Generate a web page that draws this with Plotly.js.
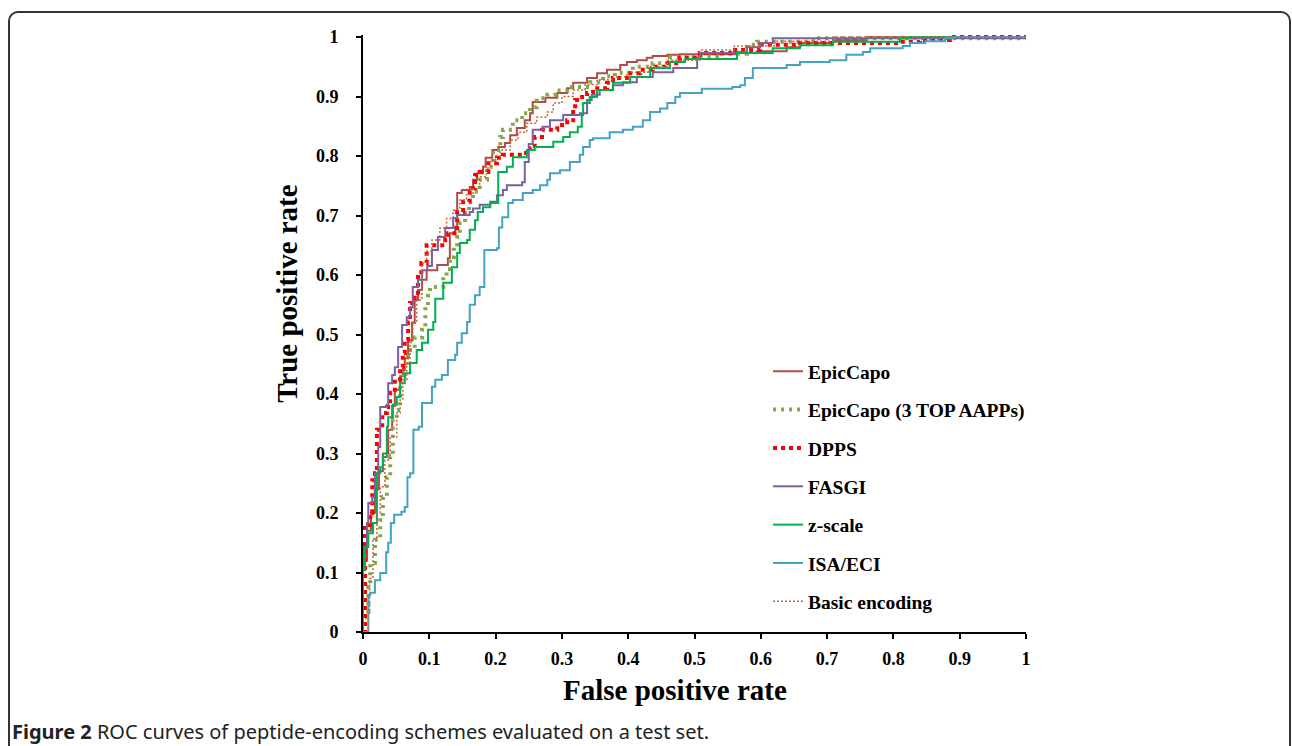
<!DOCTYPE html>
<html>
<head>
<meta charset="utf-8">
<script src="https://cdn.plot.ly/plotly-3.0.1.min.js"></script>
<style>
  html, body { margin: 0; padding: 0; background: #fff; overflow: hidden; }
  #chart { width: 1292px; height: 746px; }
  #frame { position: absolute; left: 8px; top: 11px; width: 1279px; height: 780px;
           border: 2px solid #333; border-radius: 10px; pointer-events: none; }
</style>
</head>
<body>
<div id="chart"></div>
<div id="frame"></div>
<script>
// ---- data ----
const seriesNames = ["EpicCapo", "EpicCapo (3 TOP AAPPs)", "DPPS", "FASGI", "z-scale", "ISA/ECI", "Basic encoding"];

const epicX = [0, 0, 0.006, 0.012, 0.018, 0.024, 0.03, 0.038, 0.044, 0.048, 0.056, 0.06, 0.063, 0.068, 0.074, 0.078, 0.083, 0.089, 0.096, 0.112, 0.128, 0.131, 0.139, 0.142, 0.149, 0.161, 0.166, 0.172, 0.181, 0.185, 0.195, 0.204, 0.214, 0.222, 0.232, 0.244, 0.252, 0.256, 0.275, 0.293, 0.308, 0.317, 0.338, 0.353, 0.368, 0.388, 0.398, 0.413, 0.428, 0.437, 0.459, 0.478, 0.564, 0.594, 0.639, 0.659, 0.709, 0.76, 1];
const epicY = [0, 0.12, 0.17, 0.2, 0.24, 0.27, 0.3, 0.34, 0.38, 0.407, 0.43, 0.44, 0.46, 0.49, 0.52, 0.558, 0.575, 0.592, 0.608, 0.617, 0.628, 0.67, 0.681, 0.738, 0.743, 0.748, 0.76, 0.771, 0.782, 0.797, 0.81, 0.815, 0.822, 0.835, 0.847, 0.86, 0.872, 0.891, 0.898, 0.906, 0.914, 0.923, 0.931, 0.939, 0.945, 0.953, 0.958, 0.961, 0.965, 0.968, 0.97, 0.971, 0.973, 0.976, 0.983, 0.99, 0.995, 1.0, 1.0];

const top3X = [0, 0.003, 0.008, 0.011, 0.018, 0.026, 0.03, 0.036, 0.041, 0.045, 0.051, 0.056, 0.062, 0.068, 0.078, 0.089, 0.094, 0.098, 0.101, 0.121, 0.126, 0.131, 0.137, 0.142, 0.146, 0.154, 0.16, 0.166, 0.176, 0.187, 0.196, 0.207, 0.211, 0.226, 0.24, 0.252, 0.262, 0.278, 0.29, 0.308, 0.342, 0.362, 0.38, 0.407, 0.437, 0.463, 0.488, 0.534, 0.579, 0.594, 0.679, 1];
const top3Y = [0, 0.025, 0.076, 0.116, 0.155, 0.188, 0.227, 0.26, 0.294, 0.356, 0.373, 0.424, 0.445, 0.474, 0.495, 0.508, 0.546, 0.565, 0.58, 0.597, 0.61, 0.63, 0.647, 0.664, 0.687, 0.709, 0.725, 0.74, 0.76, 0.782, 0.81, 0.832, 0.844, 0.86, 0.872, 0.882, 0.897, 0.903, 0.91, 0.916, 0.924, 0.934, 0.94, 0.95, 0.956, 0.965, 0.967, 0.972, 0.987, 0.992, 0.998, 1];

const dppsX = [0, 0.003, 0.011, 0.014, 0.018, 0.021, 0.029, 0.036, 0.041, 0.048, 0.056, 0.06, 0.063, 0.068, 0.071, 0.078, 0.083, 0.088, 0.096, 0.124, 0.128, 0.142, 0.151, 0.161, 0.169, 0.176, 0.189, 0.202, 0.211, 0.241, 0.252, 0.259, 0.27, 0.293, 0.308, 0.317, 0.32, 0.327, 0.338, 0.347, 0.368, 0.377, 0.398, 0.418, 0.437, 0.459, 0.478, 0.508, 0.558, 0.599, 0.659, 0.81, 0.84, 0.885, 1];
const dppsY = [0, 0.18, 0.2, 0.255, 0.267, 0.34, 0.368, 0.378, 0.402, 0.424, 0.445, 0.469, 0.491, 0.52, 0.553, 0.57, 0.6, 0.62, 0.65, 0.659, 0.67, 0.706, 0.723, 0.746, 0.768, 0.773, 0.788, 0.797, 0.802, 0.805, 0.813, 0.832, 0.844, 0.852, 0.86, 0.874, 0.894, 0.899, 0.906, 0.914, 0.923, 0.931, 0.939, 0.945, 0.95, 0.956, 0.965, 0.973, 0.978, 0.987, 0.99, 0.992, 0.995, 1.0, 1.0];

const fasgiX = [0, 0, 0.006, 0.008, 0.014, 0.018, 0.023, 0.026, 0.036, 0.038, 0.044, 0.048, 0.053, 0.059, 0.066, 0.071, 0.075, 0.083, 0.089, 0.097, 0.104, 0.113, 0.124, 0.136, 0.142, 0.161, 0.166, 0.176, 0.192, 0.202, 0.211, 0.217, 0.24, 0.244, 0.25, 0.256, 0.271, 0.282, 0.302, 0.327, 0.338, 0.345, 0.357, 0.377, 0.392, 0.413, 0.437, 0.468, 0.504, 0.508, 0.564, 0.579, 0.599, 0.618, 1];
const fasgiY = [0, 0.143, 0.183, 0.217, 0.227, 0.267, 0.311, 0.378, 0.382, 0.418, 0.432, 0.445, 0.479, 0.516, 0.529, 0.546, 0.58, 0.592, 0.608, 0.615, 0.642, 0.664, 0.679, 0.696, 0.701, 0.706, 0.712, 0.718, 0.723, 0.734, 0.743, 0.751, 0.756, 0.79, 0.82, 0.844, 0.849, 0.86, 0.869, 0.872, 0.894, 0.903, 0.911, 0.919, 0.924, 0.933, 0.941, 0.948, 0.965, 0.973, 0.975, 0.983, 0.99, 0.998, 1];

const zscaleX = [0, 0, 0.003, 0.008, 0.015, 0.021, 0.026, 0.03, 0.036, 0.038, 0.045, 0.051, 0.056, 0.063, 0.071, 0.081, 0.089, 0.098, 0.106, 0.109, 0.121, 0.134, 0.142, 0.146, 0.157, 0.161, 0.169, 0.173, 0.181, 0.192, 0.204, 0.217, 0.226, 0.247, 0.259, 0.287, 0.302, 0.312, 0.324, 0.33, 0.332, 0.342, 0.353, 0.377, 0.403, 0.433, 0.463, 0.486, 0.564, 0.618, 0.659, 0.709, 0.81, 0.825, 1];
const zscaleY = [0, 0.104, 0.143, 0.166, 0.183, 0.267, 0.277, 0.294, 0.345, 0.361, 0.382, 0.395, 0.418, 0.435, 0.452, 0.474, 0.486, 0.508, 0.521, 0.56, 0.587, 0.613, 0.637, 0.654, 0.659, 0.676, 0.692, 0.706, 0.714, 0.721, 0.773, 0.782, 0.798, 0.81, 0.815, 0.824, 0.832, 0.84, 0.849, 0.869, 0.889, 0.899, 0.911, 0.923, 0.933, 0.948, 0.958, 0.963, 0.973, 0.981, 0.986, 0.992, 0.998, 1, 1];

const isaX = [0, 0.008, 0.011, 0.018, 0.026, 0.035, 0.038, 0.042, 0.047, 0.058, 0.063, 0.067, 0.071, 0.076, 0.084, 0.089, 0.104, 0.109, 0.119, 0.128, 0.139, 0.142, 0.149, 0.157, 0.161, 0.169, 0.176, 0.183, 0.202, 0.205, 0.21, 0.219, 0.226, 0.241, 0.256, 0.267, 0.278, 0.282, 0.297, 0.312, 0.327, 0.332, 0.342, 0.347, 0.372, 0.392, 0.407, 0.422, 0.433, 0.448, 0.459, 0.471, 0.478, 0.511, 0.557, 0.569, 0.576, 0.588, 0.639, 0.659, 0.704, 0.729, 0.754, 0.765, 0.814, 0.825, 0.848, 0.878, 0.89, 1];
const isaY = [0, 0.062, 0.066, 0.087, 0.099, 0.134, 0.15, 0.183, 0.197, 0.202, 0.21, 0.26, 0.267, 0.34, 0.345, 0.385, 0.412, 0.424, 0.432, 0.457, 0.466, 0.486, 0.502, 0.521, 0.55, 0.566, 0.58, 0.642, 0.645, 0.68, 0.697, 0.721, 0.726, 0.738, 0.743, 0.751, 0.76, 0.771, 0.776, 0.79, 0.802, 0.815, 0.827, 0.83, 0.84, 0.844, 0.849, 0.86, 0.874, 0.88, 0.889, 0.899, 0.906, 0.913, 0.916, 0.919, 0.931, 0.948, 0.953, 0.958, 0.961, 0.97, 0.975, 0.981, 0.985, 0.99, 0.993, 0.998, 1, 1];

const basicX = [0, 0.008, 0.01, 0.015, 0.021, 0.026, 0.033, 0.041, 0.051, 0.056, 0.06, 0.066, 0.071, 0.075, 0.081, 0.089, 0.096, 0.104, 0.116, 0.126, 0.136, 0.146, 0.156, 0.166, 0.176, 0.186, 0.192, 0.2, 0.207, 0.222, 0.234, 0.247, 0.262, 0.278, 0.287, 0.3, 0.317, 0.335, 0.353, 0.377, 0.398, 0.43, 0.459, 0.508, 0.56, 0.62, 0.709, 1];
const basicY = [0, 0.032, 0.09, 0.155, 0.2, 0.244, 0.289, 0.328, 0.368, 0.39, 0.424, 0.452, 0.486, 0.519, 0.558, 0.62, 0.64, 0.659, 0.679, 0.695, 0.709, 0.726, 0.735, 0.745, 0.765, 0.78, 0.793, 0.8, 0.81, 0.827, 0.84, 0.855, 0.865, 0.874, 0.889, 0.9, 0.911, 0.92, 0.928, 0.933, 0.941, 0.95, 0.961, 0.978, 0.985, 0.993, 1, 1];

const tickVals = [0, 0.1, 0.2, 0.3, 0.4, 0.5, 0.6, 0.7, 0.8, 0.9, 1];
const tickText = ["0", "0.1", "0.2", "0.3", "0.4", "0.5", "0.6", "0.7", "0.8", "0.9", "1"];

const xTitle = "False positive rate";
const yTitle = "True positive rate";
const captionBold = "Figure 2";
const captionText = "ROC curves of peptide-encoding schemes evaluated on a test set.";

// ---- styles ----
const serif = "Liberation Serif, Times New Roman, serif";
const styles = [
  {color: "#B24B47", width: 2, dash: "solid"},
  {color: "#86A64B", width: 4, dash: "3px,5px"},
  {color: "#FF0000", width: 4, dash: "4px,4px"},
  {color: "#7D5FA0", width: 2, dash: "solid"},
  {color: "#00B050", width: 2, dash: "solid"},
  {color: "#45A3C2", width: 2, dash: "solid"},
  {color: "#C46A3A", width: 1.5, dash: "2px,2px"}
];
const xs = [epicX, top3X, dppsX, fasgiX, zscaleX, isaX, basicX];
const ys = [epicY, top3Y, dppsY, fasgiY, zscaleY, isaY, basicY];

const traces = seriesNames.map((n, i) => ({
  type: "scatter", mode: "lines", name: n,
  x: xs[i], y: ys[i],
  legendgroup: "g" + i,
  line: {shape: "hv", color: styles[i].color, width: styles[i].width, dash: styles[i].dash}
}));

// pixel -> paper helpers (plot area: x 363..1026, y 37..632)
const L = 363, R = 1026, T = 37, B = 632;
const px = v => (v - L) / (R - L);
const py = v => (B - v) / (B - T);

const layout = {
  width: 1292, height: 746,
  margin: {l: L, r: 1292 - R, t: T - 2, b: 746 - B, pad: 0},
  paper_bgcolor: "rgba(0,0,0,0)", plot_bgcolor: "rgba(0,0,0,0)",
  showlegend: true,
  legend: {
    x: px(768), y: py(353), xanchor: "left", yanchor: "top",
    font: {family: serif, size: 19.5, color: "#000", weight: "bold"},
    tracegroupgap: 10, bgcolor: "rgba(0,0,0,0)", itemwidth: 30
  },
  xaxis: {
    range: [0, 1], tickvals: tickVals, ticktext: tickText,
    showline: true, linecolor: "#000", linewidth: 2,
    ticks: "outside", ticklen: 5, tickwidth: 2, tickcolor: "#000",
    showgrid: false, zeroline: false,
    tickfont: {family: serif, size: 18, color: "#000", weight: "bold"},
    ticklabelstandoff: 4
  },
  yaxis: {
    range: [0, 1.0034], tickvals: tickVals, ticktext: tickText,
    showline: true, linecolor: "#000", linewidth: 2,
    ticks: "outside", ticklen: 5, tickwidth: 2, tickcolor: "#000",
    showgrid: false, zeroline: false,
    tickfont: {family: serif, size: 18, color: "#000", weight: "bold"},
    ticklabelstandoff: 14
  },
  annotations: [
    {text: yTitle, xref: "paper", yref: "paper", x: px(287), y: py(295),
     xanchor: "center", yanchor: "middle", textangle: -90, showarrow: false,
     font: {family: serif, size: 29, color: "#000", weight: "bold"}},
    {text: xTitle, xref: "paper", yref: "paper", x: px(675), y: py(690),
     xanchor: "center", yanchor: "middle", showarrow: false,
     font: {family: serif, size: 29, color: "#000", weight: "bold"}},
    {text: "<b>" + captionBold + "</b> " + captionText, xref: "paper", yref: "paper",
     x: px(10), y: py(731), xanchor: "left", yanchor: "middle", showarrow: false,
     font: {family: "Noto Sans, Open Sans, sans-serif", size: 20, color: "#222"}}
  ]
};

Plotly.newPlot("chart", traces, layout, {displayModeBar: false, staticPlot: true});
</script>
</body>
</html>
